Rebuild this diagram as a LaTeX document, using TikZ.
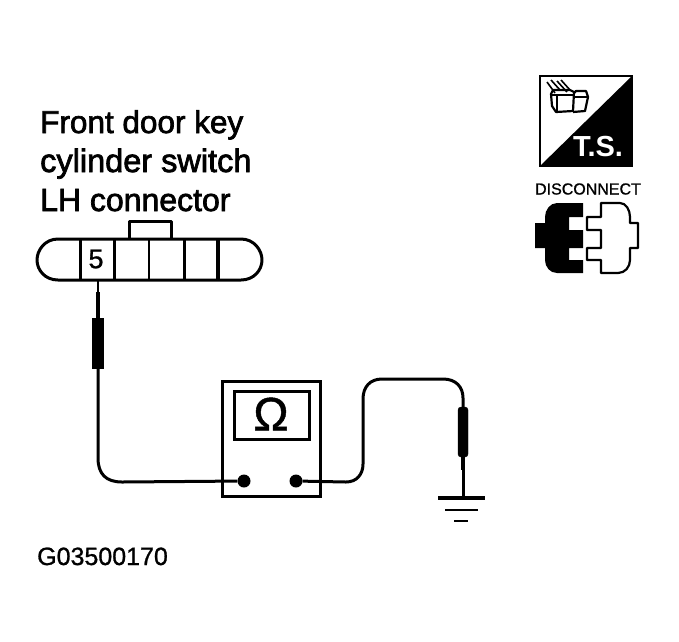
\documentclass[tikz,border=0pt]{standalone}
\usepackage{fontspec}
\setmainfont{Liberation Sans}
\newfontfamily\heavyfont[FakeBold=2.2]{Liberation Sans}
\newfontfamily\mediumfont[FakeBold=1]{Liberation Sans}
\tikzset{
  wire/.style={line width=3pt,line join=round},
  thinline/.style={line width=2.2pt,line join=round},
  probebody/.style={draw,fill=black,inner sep=0pt,minimum width=10pt,minimum height=50pt},
  terminal/.style={circle,fill=black,inner sep=0pt,minimum size=13pt},
  caption/.style={inner sep=0pt,anchor=base west}
}
\begin{document}
\begin{tikzpicture}[x=1pt,y=-1pt]
  \useasboundingbox (0,0) rectangle (679,641);
  % title
  \node[caption,font=\heavyfont\fontsize{31.5}{31.5}\selectfont] (lineone) at (40,133) {Front door key};
  \node[caption,font=\heavyfont\fontsize{32.5}{32.5}\selectfont] (linetwo) at (40,172) {cylinder switch};
  \node[caption,font=\heavyfont\fontsize{32}{32}\selectfont] (linethree) at (40,211) {LH connector};
  \node[caption,font=\mediumfont\fontsize{25}{25}\selectfont] (partno) at (37,565) {G03500170};
  % connector
  \draw[wire] (129,239) -- (129,221) -- (171,221) -- (171,239);
  \draw[wire] (58,239) -- (241,239) .. controls (254,239) and (262,250) .. (262,260)
     .. controls (262,270) and (254,280) .. (241,280) -- (58,280)
     .. controls (45,280) and (37,270) .. (37,260) .. controls (37,250) and (45,239) .. (58,239) -- cycle;
  \draw[wire] (80,239) -- (80,280);
  \draw[wire] (114,239) -- (114,280);
  \draw[thinline] (149,239) -- (149,280);
  \draw[wire] (184,239) -- (184,280);
  \draw[line width=3.4pt] (218,239) -- (218,280);
  \node[inner sep=0pt,font=\mediumfont\fontsize{27}{27}\selectfont] (pinfive) at (96,259) {5};
  % meter
  \node[draw,line width=3pt,minimum width=98pt,minimum height=115pt,inner sep=0pt] (meter) at (271,438.5) {};
  \node[draw,line width=3pt,minimum width=75pt,minimum height=48pt,inner sep=0pt] (screen) at (271.5,415) {};
  \node[inner sep=0pt,font=\mediumfont\fontsize{47}{47}\selectfont] (ohm) at (271,414) {Ω};
  \node[terminal] (termleft) at (244,481) {};
  \node[terminal] (termright) at (296,481) {};
  % left probe
  \coordinate (tipleft) at (98,280);
  \node[probebody,minimum width=11pt] (probeleft) at (98,343) {};
  \draw[line width=2pt] (tipleft) -- (98,292);
  \draw[line width=4.5pt] (98,292) -- (probeleft.north);
  \draw[wire] (probeleft.south) -- (98,458) .. controls (98,474) and (106,482) .. (122,482) -- (termleft);
  % right probe
  \node[probebody,rounded corners=3pt] (proberight) at (463,432) {};
  \coordinate (groundtop) at (463,498);
  \draw[wire] (termright) -- (346,482) .. controls (357,482) and (363,474) .. (363,464)
     -- (363,399) .. controls (363,387) and (370,379) .. (382,379) -- (443,379)
     .. controls (456,379) and (463,387) .. (463,398) -- (proberight.north);
  \draw[line width=4.5pt] (proberight.south) -- (463,470);
  \draw[wire] (463,470) -- (groundtop);
  % ground
  \draw[line width=3.4pt] (438,498) -- (485,498);
  \draw[line width=2.6pt] (445,510) -- (478,510);
  \draw[line width=2pt] (454,521) -- (468,521);
  % test symbol
  \draw[line width=2.6pt] (540,76) rectangle (632,166);
  \fill (632,76) -- (632,166) -- (540,166) -- cycle;
  \node[inner sep=0pt,text=white,font=\bfseries\fontsize{29}{29}\selectfont] (tslabel) at (598,147) {T.S.};
  \draw[line width=1.6pt] (547,82) -- (555,93) (551,80) -- (560,90) (557,81) -- (567,92) (561,80) -- (570,90);
  \draw[line width=2.2pt,line join=round] (553,90) -- (570,90) -- (574,92) -- (573,111) -- (556,112) -- (552,106) -- (551,94) -- cycle;
  \draw[line width=1.8pt] (552,95) -- (573,95) (557,96) -- (557,111);
  \draw[line width=2.2pt,line join=round] (574,93) -- (576,91) -- (586,91) -- (588,97) -- (585,111) -- (573,112);
  \draw[line width=1.8pt] (574,97) -- (588,97);
  % disconnect symbol
  \node[inner sep=0pt,font=\mediumfont\fontsize{16}{16}\selectfont] (disconnect) at (588,189) {DISCONNECT};
  \fill (583,203) -- (557,203) .. controls (550,203) and (545,210) .. (545,217) -- (545,223) -- (535,223)
     -- (535,248) -- (545,248) -- (545,260) .. controls (545,267) and (550,273) .. (557,273) -- (583,273)
     -- (583,260) -- (569,260) -- (569,248) -- (583,248) -- (583,230) -- (569,230) -- (569,217) -- (583,217) -- cycle;
  \draw[thinline] (601,203) -- (620,203) .. controls (626,203) and (630,210) .. (630,217) -- (630,223) -- (638,223)
     -- (638,248) -- (630,248) -- (630,260) .. controls (630,267) and (625,273) .. (618,273) -- (601,273)
     -- (601,260) -- (587,260) -- (587,248) -- (601,248) -- (601,230) -- (587,230) -- (587,217) -- (601,217) -- cycle;
\end{tikzpicture}
\end{document}
